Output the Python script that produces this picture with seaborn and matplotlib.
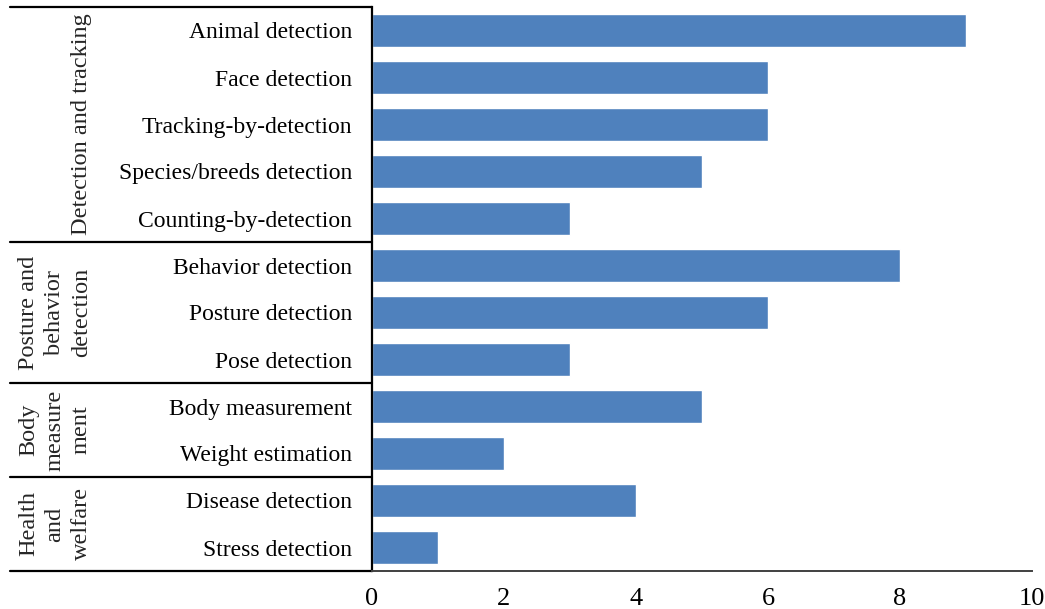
import matplotlib
matplotlib.use("Agg")
import matplotlib.pyplot as plt
import matplotlib.transforms as mtransforms
import seaborn as sns
import pandas as pd

# Application categories and number of studies
tasks = [
    "Animal detection", "Face detection", "Tracking-by-detection",
    "Species/breeds detection", "Counting-by-detection",
    "Behavior detection", "Posture detection", "Pose detection",
    "Body measurement", "Weight estimation",
    "Disease detection", "Stress detection",
]
counts = [9, 6, 6, 5, 3, 8, 6, 3, 5, 2, 4, 1]

# Higher-level groups (label, number of tasks in the group)
group_labels = ["Detection and tracking", "Posture and\nbehavior\ndetection",
                "Body\nmeasure\nment", "Health\nand\nwelfare"]
group_sizes = [5, 3, 2, 2]

x_ticks = [0, 2, 4, 6, 8, 10]

sns.set_theme(style="white")
plt.rcParams["font.family"] = ["Liberation Serif", "DejaVu Serif"]

df = pd.DataFrame({"task": tasks, "count": counts})

fig = plt.figure(figsize=(10.45, 6.09), dpi=100)
ax = fig.add_axes([372 / 1045, 1 - 571 / 609, 660 / 1045, (571 - 7) / 609])

sns.barplot(data=df, y="task", x="count", orient="h", color="#4F81BD",
            saturation=1, width=0.72, ax=ax)

ax.set_xlim(0, 10)
ax.set_ylim(len(tasks) - 0.5, -0.5)
ax.set_xticks(x_ticks)
ax.set_xticklabels([str(t) for t in x_ticks])
ax.set_xlabel("")
ax.set_ylabel("")

for side in ["top", "right"]:
    ax.spines[side].set_visible(False)
ax.spines["left"].set_color("black")
ax.spines["left"].set_linewidth(1.6)
ax.spines["bottom"].set_color("#404040")
ax.spines["bottom"].set_linewidth(1.4)

ax.tick_params(axis="x", direction="in", length=6, width=1.2, color="#404040",
               labelsize=19, labelcolor="black", pad=12.5)
ax.tick_params(axis="y", length=0, labelsize=17, labelcolor="black", pad=14.4)

# Group dividers and rotated group labels to the left of the axis
trans = mtransforms.blended_transform_factory(ax.transAxes, ax.transData)
x_left = (10 - 372) / 660
x_label = (92 - 372) / 660
start = -0.5
ax.plot([x_left, 0], [start, start], color="black", lw=1.6,
        transform=trans, clip_on=False)
for label, size in zip(group_labels, group_sizes):
    end = start + size
    ax.plot([x_left, 0], [end, end], color="black", lw=1.6,
            transform=trans, clip_on=False)
    ax.text(x_label, (start + end) / 2, label, rotation=90, ha="right",
            va="center", multialignment="center", fontsize=17.5,
            linespacing=1.35, transform=trans)
    start = end

fig.savefig("out.png", dpi=100)
